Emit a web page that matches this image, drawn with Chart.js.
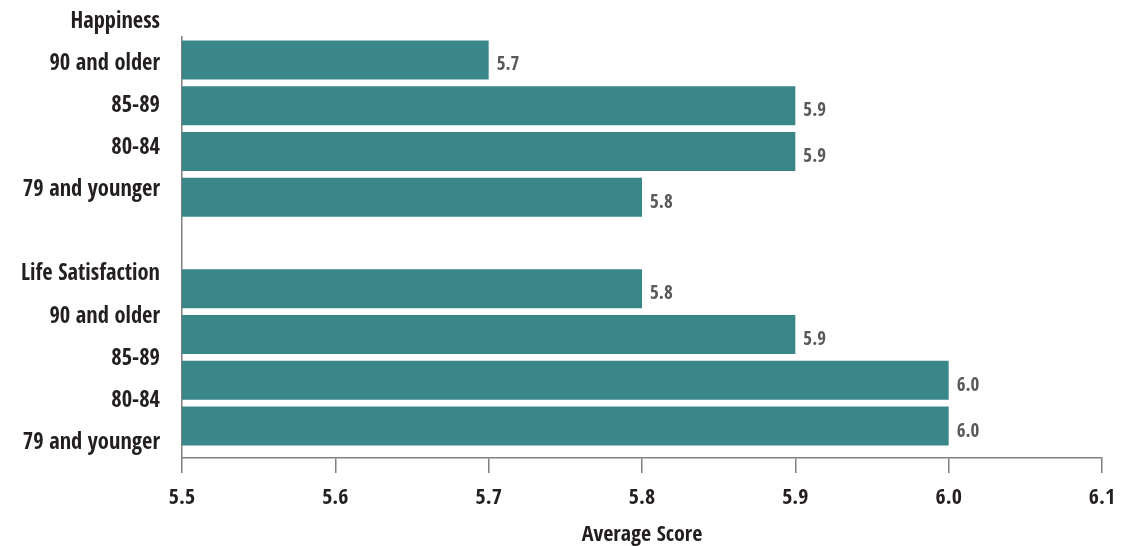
<!DOCTYPE html>
<html>
<head>
<meta charset="utf-8">
<script src="https://cdn.jsdelivr.net/npm/chart.js@4.4.1/dist/chart.umd.min.js"></script>
<style>
  html, body { margin: 0; padding: 0; background: #fff; }
</style>
</head>
<body>
<canvas id="scoreChart" width="1132" height="546"></canvas>
<script>
const measures = ['Happiness', 'Life Satisfaction'];
const ageGroups = ['90 and older', '85-89', '80-84', '79 and younger'];
const happiness = [5.7, 5.9, 5.9, 5.8];
const lifeSatisfaction = [5.8, 5.9, 6.0, 6.0];
const xTicks = [5.5, 5.6, 5.7, 5.8, 5.9, 6.0, 6.1];

const FONT = "'Open Sans Condensed', 'Roboto Condensed', sans-serif";
const DARK = '#231f20';
const AXIS = '#808080';

// bar rows: one empty slot between the two groups
const barRows = [...ageGroups, '', ...ageGroups];
const barValues = [...happiness, null, ...lifeSatisfaction];
// label rows also carry the group headings
const labelRows = [measures[0], ...ageGroups, '', measures[1], ...ageGroups];

// value text to the right of each bar
const valueLabels = {
  id: 'valueLabels',
  afterDatasetsDraw(chart) {
    const ctx = chart.ctx;
    const meta = chart.getDatasetMeta(0);
    ctx.save();
    ctx.font = 'bold 19px ' + FONT;
    ctx.fillStyle = '#58595b';
    ctx.textAlign = 'left';
    ctx.textBaseline = 'middle';
    meta.data.forEach((bar, i) => {
      const v = barValues[i];
      if (v == null) return;
      ctx.fillText(v.toFixed(1), bar.x + 8, bar.y + 5.5);
    });
    ctx.restore();
  }
};

new Chart(document.getElementById('scoreChart'), {
  type: 'bar',
  data: {
    labels: barRows,
    datasets: [{
      data: barValues,
      backgroundColor: '#3a878a',
      barPercentage: 0.852,
      categoryPercentage: 1,
      yAxisID: 'yb'
    }]
  },
  options: {
    indexAxis: 'y',
    responsive: false,
    animation: false,
    layout: { padding: { top: 37, right: 30, left: 0, bottom: 0 } },
    plugins: {
      legend: { display: false },
      tooltip: { enabled: false }
    },
    scales: {
      x: {
        type: 'linear',
        min: xTicks[0],
        max: xTicks[xTicks.length - 1],
        afterBuildTicks: (s) => { s.ticks = xTicks.map(v => ({ value: v })); },
        grid: { drawOnChartArea: false, drawTicks: true, tickLength: 15, color: AXIS, lineWidth: 1.5 },
        border: { color: AXIS, width: 1.5 },
        ticks: {
          color: DARK,
          padding: 12,
          font: { family: FONT, size: 22, weight: 'bold' },
          callback: (v) => Number(v).toFixed(1)
        },
        title: {
          display: true,
          text: 'Average Score',
          color: DARK,
          font: { family: FONT, size: 22, weight: 'bold', lineHeight: 0.96 },
          padding: { top: 0, bottom: 0 }
        },
        afterFit: (s) => { s.height = 88; }
      },
      y: {
        type: 'category',
        position: 'left',
        labels: labelRows,
        offset: false,
        weight: 0,
        z: 1,
        grid: { drawOnChartArea: false, drawTicks: false },
        border: { color: AXIS, width: 1.5 },
        ticks: {
          color: DARK,
          padding: 22,
          labelOffset: -15,
          autoSkip: false,
          font: { family: FONT, size: 22.5, weight: 'bold' }
        },
        afterFit: (s) => { s.width = 182; }
      },
      yb: {
        type: 'category',
        position: 'left',
        display: false,
        offset: true,
        stack: 'rows',
        stackWeight: 412,
        weight: 2
      },
      ypad: {
        type: 'category',
        position: 'left',
        display: false,
        labels: [''],
        stack: 'rows',
        stackWeight: 9,
        weight: 1
      }
    }
  },
  plugins: [valueLabels]
});
</script>
</body>
</html>
